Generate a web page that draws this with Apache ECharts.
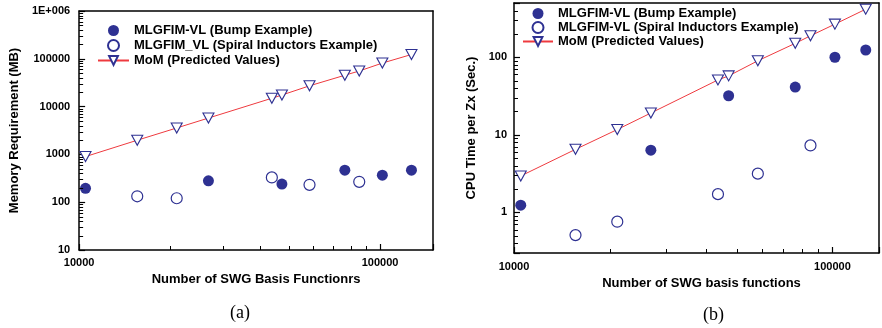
<!DOCTYPE html>
<html>
<head>
<meta charset="utf-8">
<script src="https://cdn.jsdelivr.net/npm/echarts@6/dist/echarts.min.js"></script>
<style>
	body { margin: 0; background: #fff; overflow: hidden; }
	#memory, #cpu { position: absolute; top: 0; width: 441px; height: 328px; }
	#memory { left: 0; }
	#cpu { left: 441px; }
</style>
</head>
<body>
<div id="memory"></div>
<div id="cpu"></div>
<script>
// (a) memory requirement, (b) cpu time per Zx, both log-log

// number of SWG basis functions
var nAll = [10500, 15600, 21100, 26900, 43700, 47200, 58300, 76400, 85300, 101800, 127200];
var nBump = [10500, 26900, 47200, 76400, 101800, 127200];
var nSpiral = [15600, 21100, 43700, 58300, 85300];

// (a) memory (MB)
var memBump = [195, 280, 239, 467, 367, 467];
var memSpiral = [133, 121, 330, 231, 267];
var memMoM = [900, 1980, 3570, 5760, 14950, 17450, 27200, 45300, 55600, 81400, 123000];

// (b) cpu time (sec.)
var cpuBump = [1.24, 6.35, 31.9, 41.2, 100, 124];
var cpuSpiral = [0.51, 0.76, 1.72, 3.16, 7.3];
var cpuMoM = [2.95, 6.5, 11.7, 19.1, 51, 57.5, 90, 151, 189, 267, 416];

var BLUE = '#2e3192',
	RED = '#ee3a3f',
	TICK = '#000',
	FONT = '"Liberation Sans", Arial, Helvetica, sans-serif';

var mem_chart = echarts.init(document.getElementById('memory'));
var cpu_chart = echarts.init(document.getElementById('cpu'));

function pairs(xs, ys){
	var out = [];
	for(var i = 0; i < xs.length; i++)
		out.push([xs[i], ys[i]]);
	return out;
}

// 2..9 inside every decade between lo and hi
function minorValues(lo, hi){
	var out = [];
	for(var p = Math.pow(10, Math.floor(Math.log10(lo))); p < hi; p *= 10)
		for(var k = 2; k <= 9; k++){
			var v = +(k * p).toPrecision(6);
			if(v > lo && v < hi)
				out.push(v);
		}
	return out;
}

function decadeLabel(v){
	var e = Math.log10(v);
	if(Math.abs(e - Math.round(e)) > 1e-6)
		return '';
	e = Math.round(e);
	if(e >= 6)
		return '1E+00' + e;
	return e >= 0 ? String(Math.pow(10, e)) : String(+Math.pow(10, e).toFixed(-e));
}

// short inward minor ticks, placed through the chart's own log scales
function drawMinorTicks(chart, xs, ys, xMin, yMin){
	var els = [];
	xs.forEach(function(v){
		var p = chart.convertToPixel({gridIndex: 0}, [v, yMin]);
		var x = Math.round(p[0]) + 0.5;
		els.push({type: 'line', z: 100, silent: true,
			shape: {x1: x, y1: p[1], x2: x, y2: p[1] - 4},
			style: {stroke: TICK, lineWidth: 1}});
	});
	ys.forEach(function(v){
		var p = chart.convertToPixel({gridIndex: 0}, [xMin, v]);
		var y = Math.round(p[1]) + 0.5;
		els.push({type: 'line', z: 100, silent: true,
			shape: {x1: p[0], y1: y, x2: p[0] + 4, y2: y},
			style: {stroke: TICK, lineWidth: 1}});
	});
	chart.setOption({graphic: [{elements: els}]});
}

function logAxis(min, max, name, nameGap, labelMargin, namePad){
	return {
		type: 'log',
		logBase: 10,
		min: min,
		max: max,
		name: name,
		nameLocation: 'middle',
		nameGap: nameGap,
		nameTextStyle: {fontFamily: FONT, fontWeight: 'bold', fontSize: 13, color: '#000', padding: namePad || 0},
		axisLine: {onZero: false, lineStyle: {color: '#000', width: 1.5}},
		axisTick: {show: true, inside: true, length: 6, lineStyle: {color: TICK, width: 1.2}},
		axisLabel: {
			margin: labelMargin,
			fontFamily: FONT, fontWeight: 'bold', fontSize: 11, color: '#000',
			formatter: decadeLabel
		},
		splitLine: {show: false}
	};
}

// plain line on the opposite side, closes the frame
function frameAxis(min, max, position){
	return {
		type: 'log', logBase: 10, min: min, max: max, position: position,
		axisLine: {onZero: false, lineStyle: {color: '#000', width: 1.5}},
		axisTick: {show: false},
		axisLabel: {show: false},
		splitLine: {show: false}
	};
}

function series(bumpName, spiralName, bump, spiral, mom){
	return [
		{
			name: bumpName,
			type: 'scatter',
			symbol: 'circle',
			symbolSize: 11,
			itemStyle: {color: BLUE, opacity: 1},
			data: pairs(nBump, bump),
			z: 3
		},
		{
			name: spiralName,
			type: 'scatter',
			symbol: 'circle',
			symbolSize: 11,
			itemStyle: {color: '#fff', borderColor: BLUE, borderWidth: 1.2, opacity: 1},
			data: pairs(nSpiral, spiral),
			z: 3
		},
		{
			name: 'MoM (Predicted Values)',
			type: 'line',
			symbol: 'triangle',
			symbolRotate: 180,
			symbolSize: [11, 10],
			showAllSymbol: true,
			lineStyle: {color: RED, width: 1},
			itemStyle: {color: '#fff', borderColor: BLUE, borderWidth: 1.1},
			data: pairs(nAll, mom),
			z: 3
		}
	];
}

function legend(left, top, itemWidth, gap){
	return {
		orient: 'vertical',
		left: left,
		top: top,
		padding: 0,
		itemWidth: itemWidth,
		itemHeight: 11,
		itemGap: gap,
		textStyle: {fontFamily: FONT, fontWeight: 'bold', fontSize: 13, color: '#000'}
	};
}

function captionTitle(text, left, top){
	return {
		text: text, left: left, top: top, padding: 0,
		textStyle: {fontFamily: '"Liberation Serif", "Times New Roman", serif', fontWeight: 'normal', fontSize: 18, color: '#000'}
	};
}

function inital_mem_chart(){
	mem_chart.setOption({
		animation: false,
		title: captionTitle('(a)', 230, 304),
		grid: {left: 72, right: 8, top: 11, bottom: 78},
		legend: legend(97, 24, 31, 2),
		xAxis: [logAxis(10000, 150000, 'Number of SWG Basis Functionrs', 22, 7), frameAxis(10000, 150000, 'top')],
		yAxis: [logAxis(10, 1000000, 'Memory Requirement (MB)', 45, 9), frameAxis(10, 1000000, 'right')],
		series: series('MLGFIM-VL (Bump Example)', 'MLGFIM_VL (Spiral Inductors Example)', memBump, memSpiral, memMoM)
	});
	drawMinorTicks(mem_chart, minorValues(10000, 150000), minorValues(10, 1000000), 10000, 10);
}

function inital_cpu_chart(){
	cpu_chart.setOption({
		animation: false,
		title: captionTitle('(b)', 262, 306),
		grid: {left: 73, right: 1, top: 3, bottom: 75},
		legend: legend(81, 7, 30, 1),
		xAxis: [logAxis(10000, 140000, 'Number of SWG basis functions', 22, 8, [0, 0, 0, 10]), frameAxis(10000, 140000, 'top')],
		yAxis: [logAxis(0.3, 500, 'CPU Time per Zx (Sec.)', 32, 7), frameAxis(0.3, 500, 'right')],
		series: series('MLGFIM-VL (Bump Example)', 'MLGFIM-VL (Spiral Inductors Example)', cpuBump, cpuSpiral, cpuMoM)
	});
	drawMinorTicks(cpu_chart, minorValues(10000, 140000), minorValues(0.3, 500), 10000, 0.3);
}

inital_mem_chart();
inital_cpu_chart();
</script>
</body>
</html>
